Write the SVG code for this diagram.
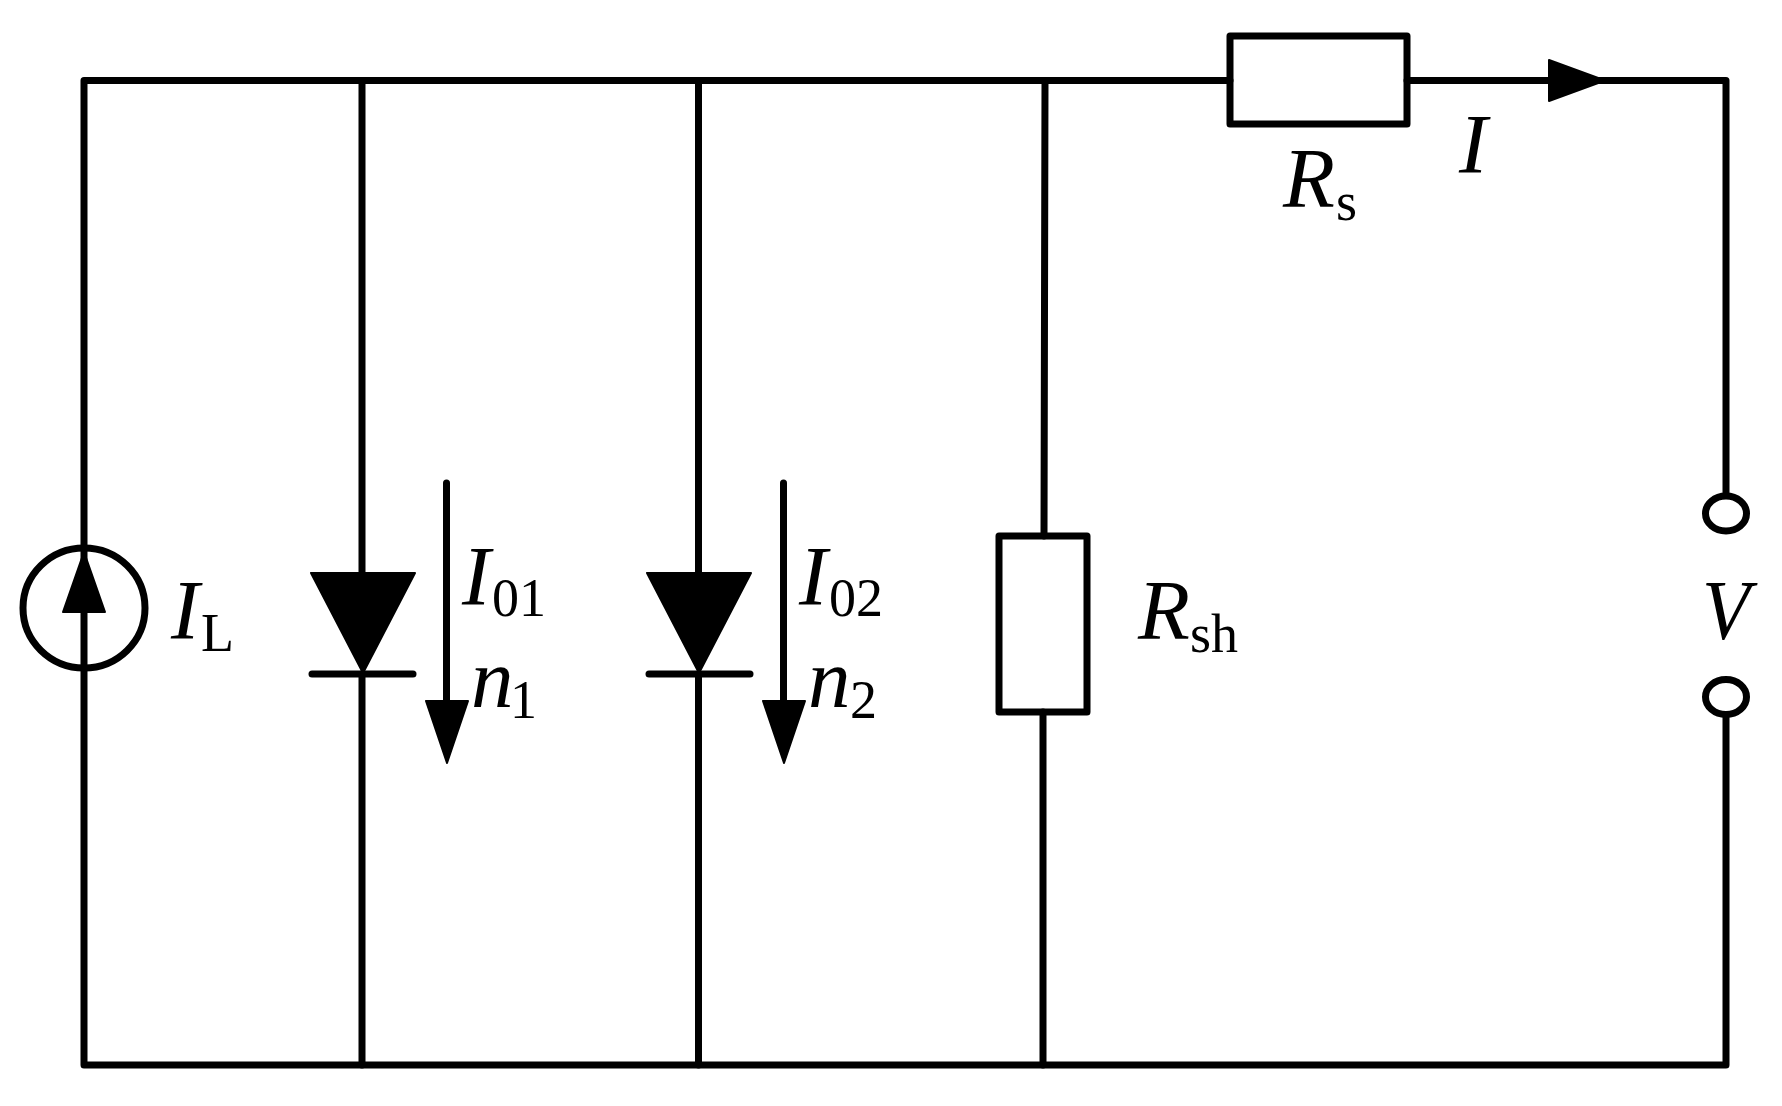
<svg xmlns="http://www.w3.org/2000/svg" width="1782" height="1106" viewBox="0 0 1782 1106">
<style>
.w{fill:none;stroke:#000;stroke-width:7;stroke-linecap:round;stroke-linejoin:round}
.f{fill:#000;stroke:#000;stroke-width:2;stroke-linejoin:round}
text{font-family:"Liberation Serif","Times New Roman",serif;fill:#000}
.m{font-size:85px;font-style:italic}
.s{font-size:54px}
</style>
<rect width="1782" height="1106" fill="#fff"/>
<g id="connectors">
<path class="w" d="M84 80.500H1230M1407 80.500H1726V493M1726 717V1065H84V80.500"/>
<path class="w" d="M362 80.500V572M362 674V1065"/>
<path class="w" d="M698.500 80.500V572M698.500 674V1065"/>
<path class="w" d="M1045 80.500L1044 536M1043 712V1065"/>
<path class="w" d="M446.500 483V702"/>
<path class="w" d="M783.500 483V702"/>
<polygon class="f" points="1549,60 1605,80.500 1549,101"/>
<polygon class="f" points="426,701 468,701 447,763"/>
<polygon class="f" points="763,701 805,701 784,763"/>
</g>
<g id="source">
<ellipse class="w" cx="84" cy="608" rx="61" ry="60"/>
<polygon class="f" points="84,552 63,612 105,612"/>
<text class="m" x="171" y="639">I</text><text class="s" x="201" y="651">L</text>
</g>
<g id="diode1">
<polygon class="f" points="311,573 415,573 363,673"/>
<path class="w" d="M312 674H413"/>
<text class="m" x="462" y="605">I</text><text class="s" x="492" y="616">01</text>
<text class="m" x="471" y="707">n</text><text class="s" x="510" y="718">1</text>
</g>
<g id="diode2">
<polygon class="f" points="647,573 751,573 699,673"/>
<path class="w" d="M649 674H750"/>
<text class="m" x="799" y="605">I</text><text class="s" x="829" y="616">02</text>
<text class="m" x="808" y="707">n</text><text class="s" x="850" y="718">2</text>
</g>
<g id="rsh">
<rect class="w" x="999" y="536" width="88" height="176"/>
<text class="m" x="1138" y="639">R</text><text class="s" x="1190" y="652">sh</text>
</g>
<g id="rs">
<rect class="w" x="1230" y="36" width="177" height="88"/>
<text class="m" x="1283" y="207">R</text><text class="s" x="1336" y="220">s</text>
</g>
<g id="current-label"><text class="m" x="1459" y="173">I</text></g>
<g id="terminals">
<ellipse class="w" cx="1726" cy="513.500" rx="20.500" ry="17.500"/>
<ellipse class="w" cx="1726" cy="697" rx="20.500" ry="17.500"/>
<text class="m" x="1702" y="639" textLength="48" lengthAdjust="spacingAndGlyphs">V</text>
</g>
</svg>
